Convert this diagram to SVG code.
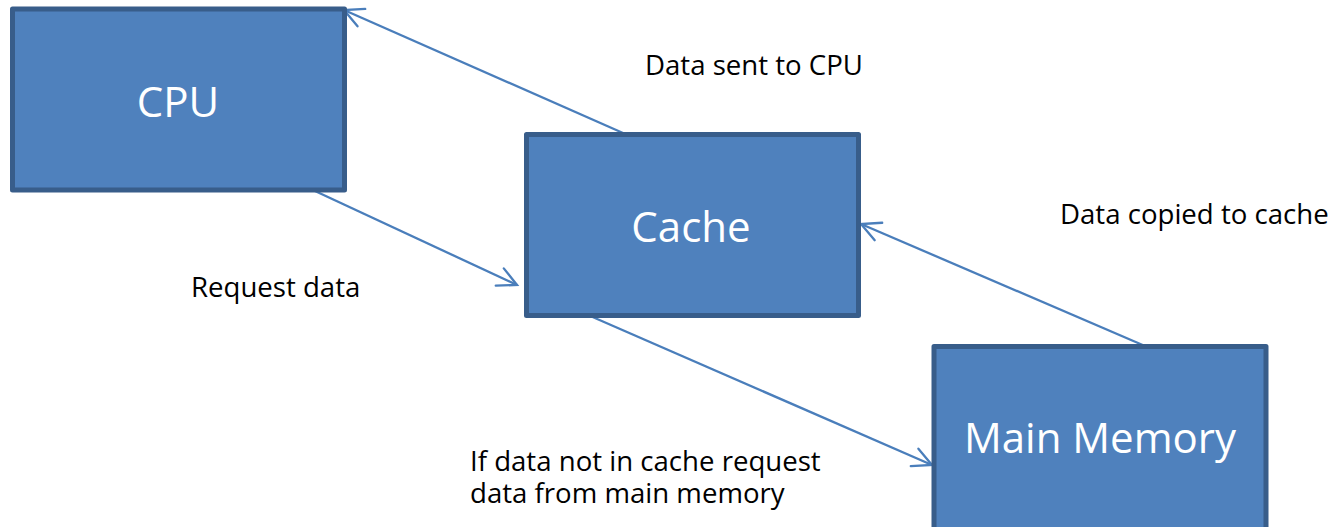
<svg xmlns="http://www.w3.org/2000/svg" width="1332" height="527" viewBox="0 0 1332 527">
  <style>
    .box { fill: #4F81BD; stroke: #385D8A; stroke-width: 5; stroke-linejoin: round; }
    .box-label { font-family: "Open Sans", "Liberation Sans", sans-serif; font-size: 42px; fill: #FFFFFF; text-anchor: middle; }
    .note { font-family: "Open Sans", "Liberation Sans", sans-serif; font-size: 27.6px; fill: #000000; }
    .link { stroke: #4A7EBB; stroke-width: 2.3; fill: none; marker-end: url(#open-arrow); }
  </style>
  <defs>
    <marker id="open-arrow" markerUnits="userSpaceOnUse" markerWidth="30" markerHeight="30" viewBox="-25 -15 30 30" refX="0" refY="0" orient="auto">
      <path d="M-19,-9.5 L0,0 L-19,9.5" fill="none" stroke="#4A7EBB" stroke-width="2.3" stroke-linecap="round" stroke-linejoin="miter"/>
    </marker>
  </defs>

  <rect width="1332" height="527" fill="#FFFFFF"/>

  <!-- connectors -->
  <g id="connectors">
    <line class="link" x1="623" y1="133" x2="344" y2="10"/>
    <line class="link" x1="315" y1="191" x2="517" y2="285"/>
    <line class="link" x1="588" y1="315" x2="932" y2="465"/>
    <line class="link" x1="1145" y1="346" x2="861" y2="224"/>
  </g>

  <!-- nodes -->
  <g id="cpu">
    <rect class="box" x="12.5" y="9" width="332" height="181"/>
    <text class="box-label" x="178" y="117">CPU</text>
  </g>
  <g id="cache">
    <rect class="box" x="526.5" y="134.5" width="332" height="181"/>
    <text class="box-label" x="691" y="242">Cache</text>
  </g>
  <g id="main-memory">
    <rect class="box" x="934" y="346.5" width="332" height="185"/>
    <text class="box-label" x="1100" y="453">Main Memory</text>
  </g>

  <!-- step notes -->
  <g id="labels">
    <text class="note" x="645" y="75">Data sent to CPU</text>
    <text class="note" x="191" y="297">Request data</text>
    <text class="note" x="1060" y="224">Data copied to cache</text>
    <text class="note" x="470" y="471"><tspan x="470" y="471">If data not in cache request</tspan><tspan x="470" y="503">data from main memory</tspan></text>
  </g>
</svg>
